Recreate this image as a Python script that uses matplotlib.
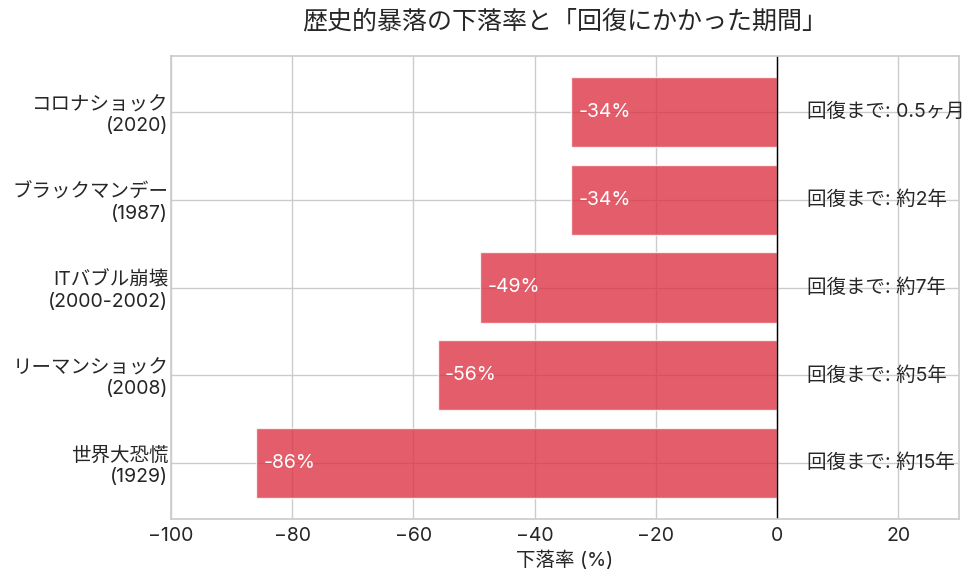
import matplotlib
matplotlib.use("Agg")
import matplotlib.pyplot as plt
import seaborn as sns

# 暴落イベント（下から上の順）
events = ["世界大恐慌\n(1929)", "リーマンショック\n(2008)", "ITバブル崩壊\n(2000-2002)",
          "ブラックマンデー\n(1987)", "コロナショック\n(2020)"]
drops = [-86, -56, -49, -34, -34]
recovery = ["約15年", "約5年", "約7年", "約2年", "0.5ヶ月"]

sns.set_theme(style="whitegrid")
plt.rcParams['font.family'] = ['Inter', 'Noto Sans CJK JP', 'DejaVu Sans']

fig, ax = plt.subplots(figsize=(9.75, 5.77), dpi=100)
fig.subplots_adjust(left=171/975, right=959/975, top=1-56/577, bottom=1-519/577)

bars = ax.barh(events, drops, color='#dc3545', alpha=0.8, height=0.8)
ax.axvline(0, color='black', linewidth=1)

# バー内の下落率と右側の回復期間
for i, (d, r) in enumerate(zip(drops, recovery)):
    ax.text(d + 1.2, i, f"{d}%", va='center', ha='left', color='white', fontsize=14)
    ax.text(5, i, f"回復まで: {r}", va='center', ha='left', color='#262626', fontsize=14)

ax.set_xlim(-100, 30)
ax.set_xlabel("下落率 (%)", fontsize=14, color='#262626')
ax.set_title("歴史的暴落の下落率と「回復にかかった期間」", fontsize=18, pad=20, color='#262626')
ax.tick_params(axis='x', labelsize=14, length=0, pad=6)
ax.tick_params(axis='y', labelsize=14, length=0, pad=2)

fig.savefig("out.png", dpi=100)
